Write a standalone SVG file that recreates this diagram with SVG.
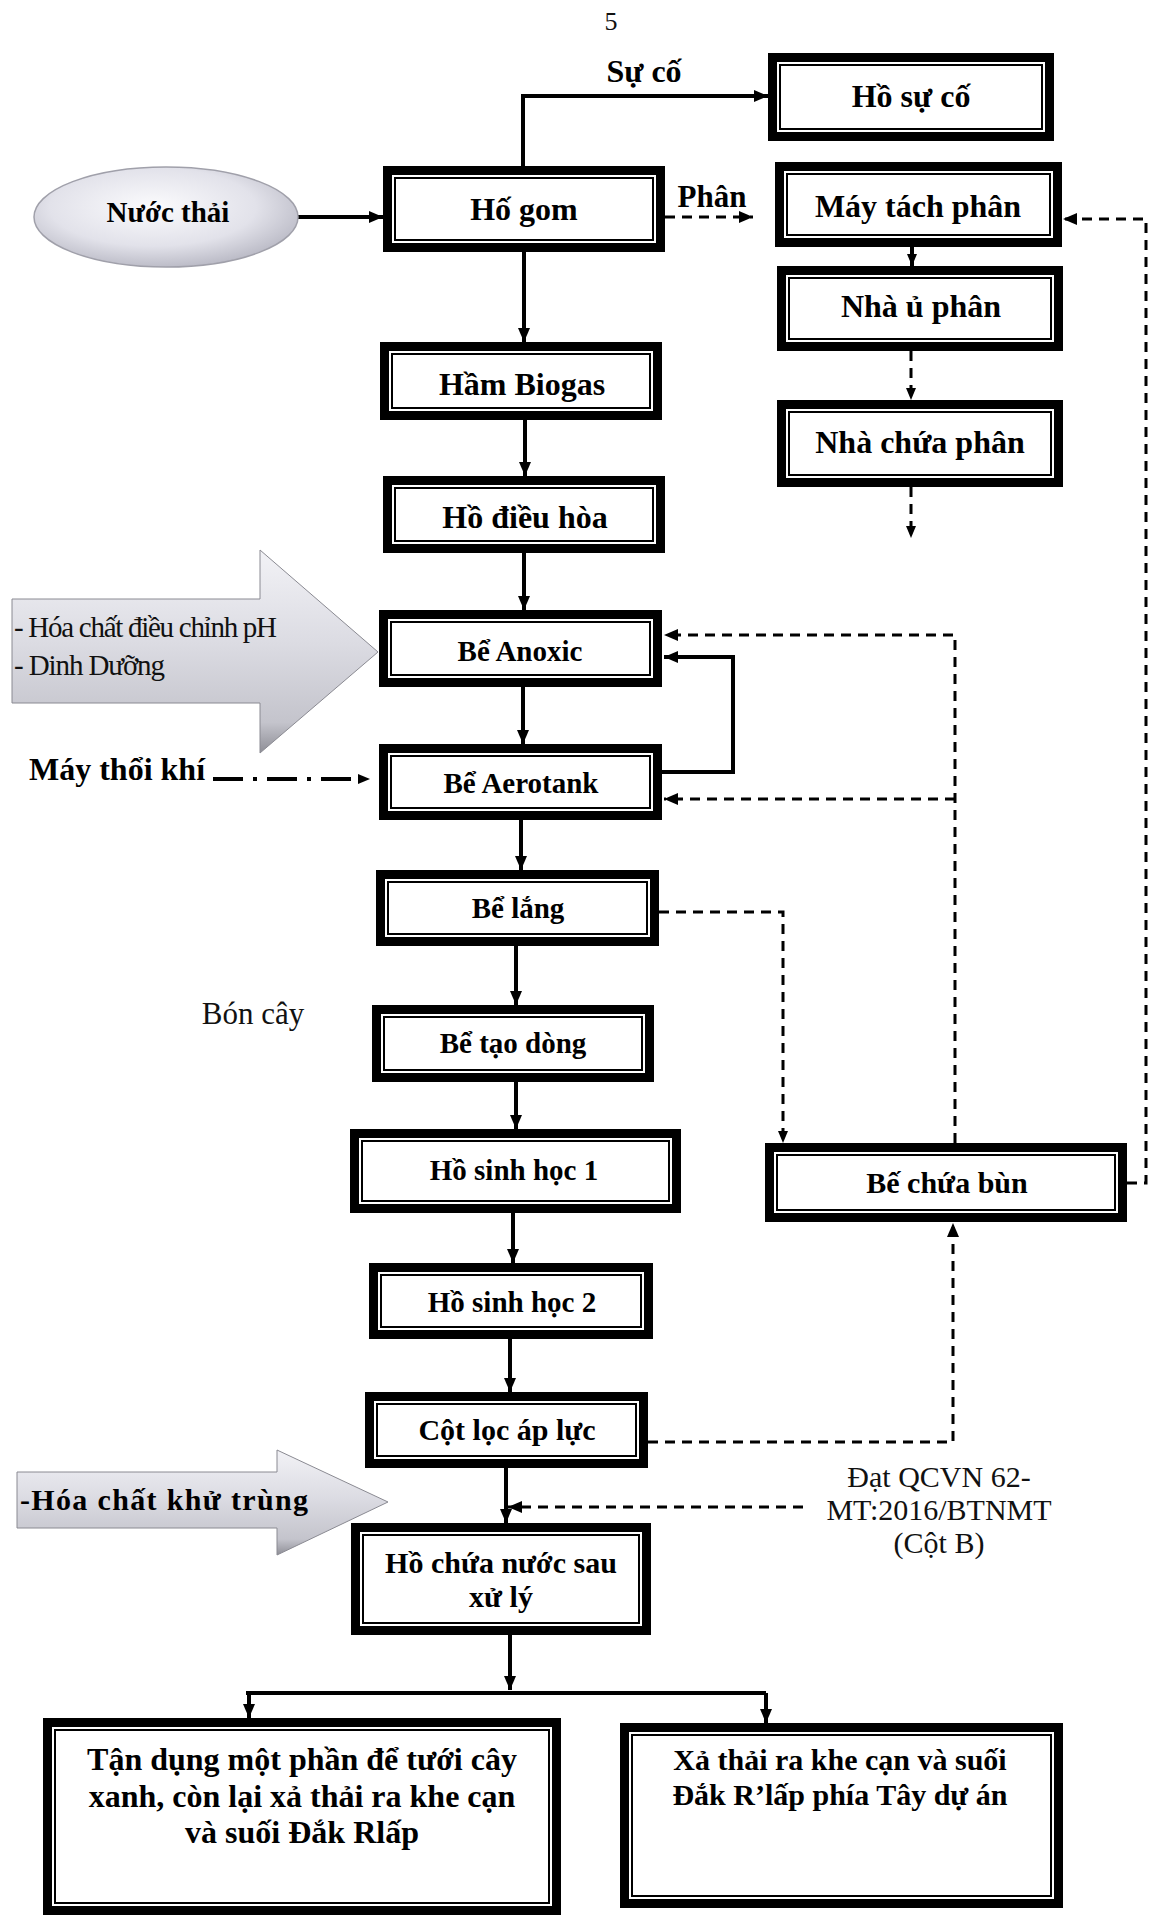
<svg xmlns="http://www.w3.org/2000/svg" width="1150" height="1919" viewBox="0 0 1150 1919">
<defs>
<marker id="ah" markerWidth="16" markerHeight="14" refX="14" refY="6" orient="auto" markerUnits="userSpaceOnUse"><path d="M0,0 L14,6 L0,12 z" fill="#000"/></marker>
<marker id="ahs" markerWidth="14" markerHeight="12" refX="12" refY="5" orient="auto" markerUnits="userSpaceOnUse"><path d="M0,0 L12,5 L0,10 z" fill="#000"/></marker>
<linearGradient id="gArrow" x1="0" y1="0" x2="0" y2="1">
<stop offset="0" stop-color="#f2f2f6"/>
<stop offset="0.45" stop-color="#dcdce3"/>
<stop offset="0.85" stop-color="#c4c4cc"/>
<stop offset="1" stop-color="#8e8e96"/>
</linearGradient>
<radialGradient id="gEll" cx="0.45" cy="0.4" r="0.65">
<stop offset="0" stop-color="#fbfbfd"/>
<stop offset="0.6" stop-color="#e2e2ea"/>
<stop offset="1" stop-color="#b4b4c0"/>
</radialGradient>
<style>
.bo{fill:#fff;stroke:#000;stroke-width:9}
.bi{fill:none;stroke:#000;stroke-width:2}
.t{font-family:"Liberation Serif","Times New Roman",serif;font-weight:bold;fill:#000;text-anchor:middle}
.ts{font-family:"Liberation Serif","Times New Roman",serif;font-weight:bold;fill:#000;text-anchor:start}
.r{font-family:"Liberation Serif","Times New Roman",serif;fill:#111}
.ln{fill:none;stroke:#000;stroke-width:4}
.ds{fill:none;stroke:#000;stroke-width:3;stroke-dasharray:10 7}
.arr{fill:url(#gArrow);stroke:#8a8a92;stroke-width:1}
</style>
</defs>

<text class="r" x="611" y="30" font-size="26" text-anchor="middle">5</text>

<g id="connectors">
<path class="ln" d="M298,217 H383" stroke-width="6" marker-end="url(#ah)"/>
<path class="ln" d="M523,166 V96 H768" stroke-width="3" marker-end="url(#ah)"/>
<path class="ds" d="M665,217 H753" marker-end="url(#ah)"/>
<path class="ln" d="M912,247 V266" stroke-width="3" marker-end="url(#ahs)"/>
<path class="ds" d="M911,351 V400" marker-end="url(#ahs)"/>
<path class="ds" d="M911,487 V538" marker-end="url(#ahs)"/>
<path class="ln" d="M524,252 V342" marker-end="url(#ah)"/>
<path class="ln" d="M525,420 V476" marker-end="url(#ah)"/>
<path class="ln" d="M524,553 V610" marker-end="url(#ah)"/>
<path class="ln" d="M523,687 V744" marker-end="url(#ah)"/>
<path class="ln" d="M521,820 V870" marker-end="url(#ah)"/>
<path class="ln" d="M516,946 V1005" marker-end="url(#ah)"/>
<path class="ln" d="M516,1082 V1129" marker-end="url(#ah)"/>
<path class="ln" d="M513,1213 V1263" marker-end="url(#ah)"/>
<path class="ln" d="M510,1339 V1392" marker-end="url(#ah)"/>
<path class="ln" d="M506,1468 V1523" marker-end="url(#ah)"/>
<path class="ln" d="M662,772 H733 V657 H664" marker-end="url(#ah)"/>
<path class="ds" d="M955,1143 V635 H664" marker-end="url(#ah)"/>
<path class="ds" d="M955,799 H664" marker-end="url(#ah)"/>
<path class="ds" d="M659,912 H783 V1143" marker-end="url(#ahs)"/>
<path class="ds" d="M648,1442 H953 V1223" marker-end="url(#ah)"/>
<path class="ds" d="M1127,1183 H1146 V219 H1063" marker-end="url(#ah)"/>
<path class="ds" d="M803,1507 H508" marker-end="url(#ah)"/>
<path class="ln" d="M213,779 H370" stroke-width="3" stroke-dasharray="30 10 4 10" marker-end="url(#ahs)"/>
<path class="ln" d="M510,1635 V1690" marker-end="url(#ah)"/>
<path class="ln" d="M246,1693 H766" stroke-width="6"/>
<path class="ln" d="M249,1693 V1718" marker-end="url(#ah)"/>
<path class="ln" d="M766,1693 V1723" marker-end="url(#ah)"/>
</g>

<text class="t" x="644" y="82" font-size="32">Sự cố</text>
<text class="t" x="712" y="207" font-size="31">Phân</text>
<text class="ts" x="29" y="780" font-size="32">Máy thổi khí</text>
<text class="r" x="253" y="1024" font-size="31" text-anchor="middle" fill="#333">Bón cây</text>
<text class="r" x="939" y="1487" font-size="30" text-anchor="middle">Đạt QCVN 62-</text>
<text class="r" x="939" y="1520" font-size="30" text-anchor="middle">MT:2016/BTNMT</text>
<text class="r" x="939" y="1553" font-size="30" text-anchor="middle">(Cột B)</text>

<g id="n-nuocthai">
<ellipse cx="166" cy="217" rx="132" ry="50" fill="url(#gEll)" stroke="#a0a0aa" stroke-width="1.5"/>
<text class="t" x="168" y="222" font-size="29">Nước thải</text>
</g>

<g id="n-hoachat">
<polygon class="arr" points="12,599 260,599 260,550 378,652 260,753 260,703 12,703"/>
<text class="r" x="14" y="637" font-size="29" textLength="263">- Hóa chất điều chỉnh pH</text>
<text class="r" x="14" y="675" font-size="29" textLength="151">- Dinh Dưỡng</text>
</g>

<g id="n-khutrung">
<polygon class="arr" points="17,1472 277,1472 277,1450 388,1502 277,1555 277,1528 17,1528"/>
<text class="ts" x="20" y="1510" font-size="30" textLength="288">-Hóa chất khử trùng</text>
</g>

<g id="n-hosuco"><rect class="bo" x="772.5" y="57.5" width="277" height="79"/><rect class="bi" x="780" y="65" width="262" height="64"/><text class="t" x="911" y="107" font-size="32">Hồ sự cố</text></g>
<g id="n-hogom"><rect class="bo" x="387.5" y="170.5" width="273" height="77"/><rect class="bi" x="395" y="178" width="258" height="62"/><text class="t" x="524" y="220" font-size="32">Hố gom</text></g>
<g id="n-maytach"><rect class="bo" x="779.5" y="166.5" width="278" height="76"/><rect class="bi" x="787" y="174" width="263" height="61"/><text class="t" x="918" y="217" font-size="32">Máy tách phân</text></g>
<g id="n-nhaupha"><rect class="bo" x="781.5" y="270.5" width="277" height="76"/><rect class="bi" x="789" y="278" width="262" height="61"/><text class="t" x="921" y="317" font-size="32">Nhà ủ phân</text></g>
<g id="n-nhachua"><rect class="bo" x="781.5" y="404.5" width="277" height="78"/><rect class="bi" x="789" y="412" width="262" height="63"/><text class="t" x="920" y="453" font-size="32">Nhà chứa phân</text></g>
<g id="n-biogas"><rect class="bo" x="384.5" y="346.5" width="273" height="69"/><rect class="bi" x="392" y="354" width="258" height="54"/><text class="t" x="522" y="395" font-size="32">Hầm Biogas</text></g>
<g id="n-dieuhoa"><rect class="bo" x="387.5" y="480.5" width="273" height="68"/><rect class="bi" x="395" y="488" width="258" height="53"/><text class="t" x="525" y="528" font-size="32">Hồ điều hòa</text></g>
<g id="n-anoxic"><rect class="bo" x="383.5" y="614.5" width="274" height="68"/><rect class="bi" x="391" y="622" width="259" height="53"/><text class="t" x="520" y="661" font-size="29">Bể Anoxic</text></g>
<g id="n-aerotank"><rect class="bo" x="383.5" y="748.5" width="274" height="67"/><rect class="bi" x="391" y="756" width="259" height="52"/><text class="t" x="521" y="793" font-size="29">Bể Aerotank</text></g>
<g id="n-belang"><rect class="bo" x="380.5" y="874.5" width="274" height="67"/><rect class="bi" x="388" y="882" width="259" height="52"/><text class="t" x="518" y="918" font-size="29">Bể lắng</text></g>
<g id="n-taodong"><rect class="bo" x="376.5" y="1009.5" width="273" height="68"/><rect class="bi" x="384" y="1017" width="258" height="53"/><text class="t" x="513" y="1053" font-size="29">Bể tạo dòng</text></g>
<g id="n-hsh1"><rect class="bo" x="354.5" y="1133.5" width="322" height="75"/><rect class="bi" x="362" y="1141" width="307" height="60"/><text class="t" x="514" y="1180" font-size="29">Hồ sinh học 1</text></g>
<g id="n-chuabun"><rect class="bo" x="769.5" y="1147.5" width="353" height="70"/><rect class="bi" x="777" y="1155" width="338" height="55"/><text class="t" x="947" y="1193" font-size="30">Bế chứa bùn</text></g>
<g id="n-hsh2"><rect class="bo" x="373.5" y="1267.5" width="275" height="67"/><rect class="bi" x="381" y="1275" width="260" height="52"/><text class="t" x="512" y="1312" font-size="29">Hồ sinh học 2</text></g>
<g id="n-cotloc"><rect class="bo" x="369.5" y="1396.5" width="274" height="67"/><rect class="bi" x="377" y="1404" width="259" height="52"/><text class="t" x="507" y="1440" font-size="30">Cột lọc áp lực</text></g>
<g id="n-hochua"><rect class="bo" x="355.5" y="1527.5" width="291" height="103"/><rect class="bi" x="363" y="1535" width="276" height="88"/><text class="t" x="501" y="1573" font-size="30">Hồ chứa nước sau</text><text class="t" x="501" y="1607" font-size="30">xử lý</text></g>
<g id="n-tandung"><rect class="bo" x="47.5" y="1722.5" width="509" height="188"/><rect class="bi" x="55" y="1730" width="494" height="173"/><text class="t" x="302" y="1770" font-size="32">Tận dụng một phần để tưới cây</text><text class="t" x="302" y="1807" font-size="32">xanh, còn lại xả thải ra khe cạn</text><text class="t" x="302" y="1843" font-size="32">và suối Đắk Rlấp</text></g>
<g id="n-xathai"><rect class="bo" x="624.5" y="1727.5" width="434" height="176"/><rect class="bi" x="632" y="1735" width="419" height="161"/><text class="t" x="840" y="1770" font-size="30">Xả thải ra khe cạn và suối</text><text class="t" x="840" y="1805" font-size="30">Đắk R’lấp phía Tây dự án</text></g>
</svg>
